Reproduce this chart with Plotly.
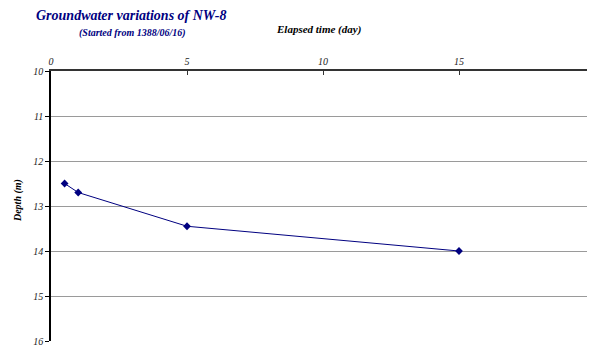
import plotly.graph_objects as go

elapsed_days = [0.5, 1, 5, 15]
depth_m = [12.5, 12.7, 13.45, 14.0]
x_ticks = [0, 5, 10, 15, 20]
y_ticks = [10, 11, 12, 13, 14, 15, 16]

navy = "#000080"
serif = "Liberation Serif, Times New Roman, serif"

fig = go.Figure()
fig.add_trace(go.Scatter(
    x=elapsed_days, y=depth_m, mode="lines+markers",
    line=dict(color=navy, width=1),
    marker=dict(symbol="diamond", size=6, color=navy),
    showlegend=False, cliponaxis=False,
))

fig.update_layout(
    width=595, height=345,
    margin=dict(l=43, r=8, t=63, b=12, autoexpand=False),
    paper_bgcolor="white", plot_bgcolor="white",
    font=dict(family=serif, size=10, color="black"),
    xaxis=dict(
        range=[0, 20], side="top", tickvals=x_ticks, ticktext=[str(v) for v in x_ticks],
        showgrid=False, zeroline=False, showline=True, linecolor="#333333", linewidth=1.5,
        ticks="inside", ticklen=4, tickcolor="#333333", automargin=False,
        tickfont=dict(family=serif, size=10, style="italic", color="#222"),
    ),
    yaxis=dict(
        range=[16, 10], tickvals=y_ticks, ticktext=[str(v) for v in y_ticks],
        showgrid=True, gridcolor="#9a9a9a", gridwidth=1, zeroline=False,
        showline=True, linecolor="black", linewidth=1.5, automargin=False,
        ticks="outside", ticklen=4, tickcolor="black",
        tickfont=dict(family=serif, size=10, style="italic", color="#222"),
    ),
    annotations=[
        dict(text="<b><i>Groundwater variations of NW-8</i></b>", xref="paper", yref="paper",
             x=0.147, y=1.204, showarrow=False, xanchor="center", yanchor="middle",
             font=dict(family=serif, size=14, color=navy)),
        dict(text="<b><i>(Started from 1388/06/16)</i></b>", xref="paper", yref="paper",
             x=0.149, y=1.141, showarrow=False, xanchor="center", yanchor="middle",
             font=dict(family=serif, size=10, color=navy)),
        dict(text="<b><i>Elapsed time (day)</i></b>", xref="paper", yref="paper",
             x=0.491, y=1.152, showarrow=False, xanchor="center", yanchor="middle",
             font=dict(family=serif, size=11, color="black")),
        dict(text="<b><i>Depth (m)</i></b>", xref="paper", yref="paper",
             x=-0.0607, y=0.522, showarrow=False, xanchor="center", yanchor="middle",
             textangle=-90, font=dict(family=serif, size=10, color="black")),
    ],
)

fig.write_html("out.html")
